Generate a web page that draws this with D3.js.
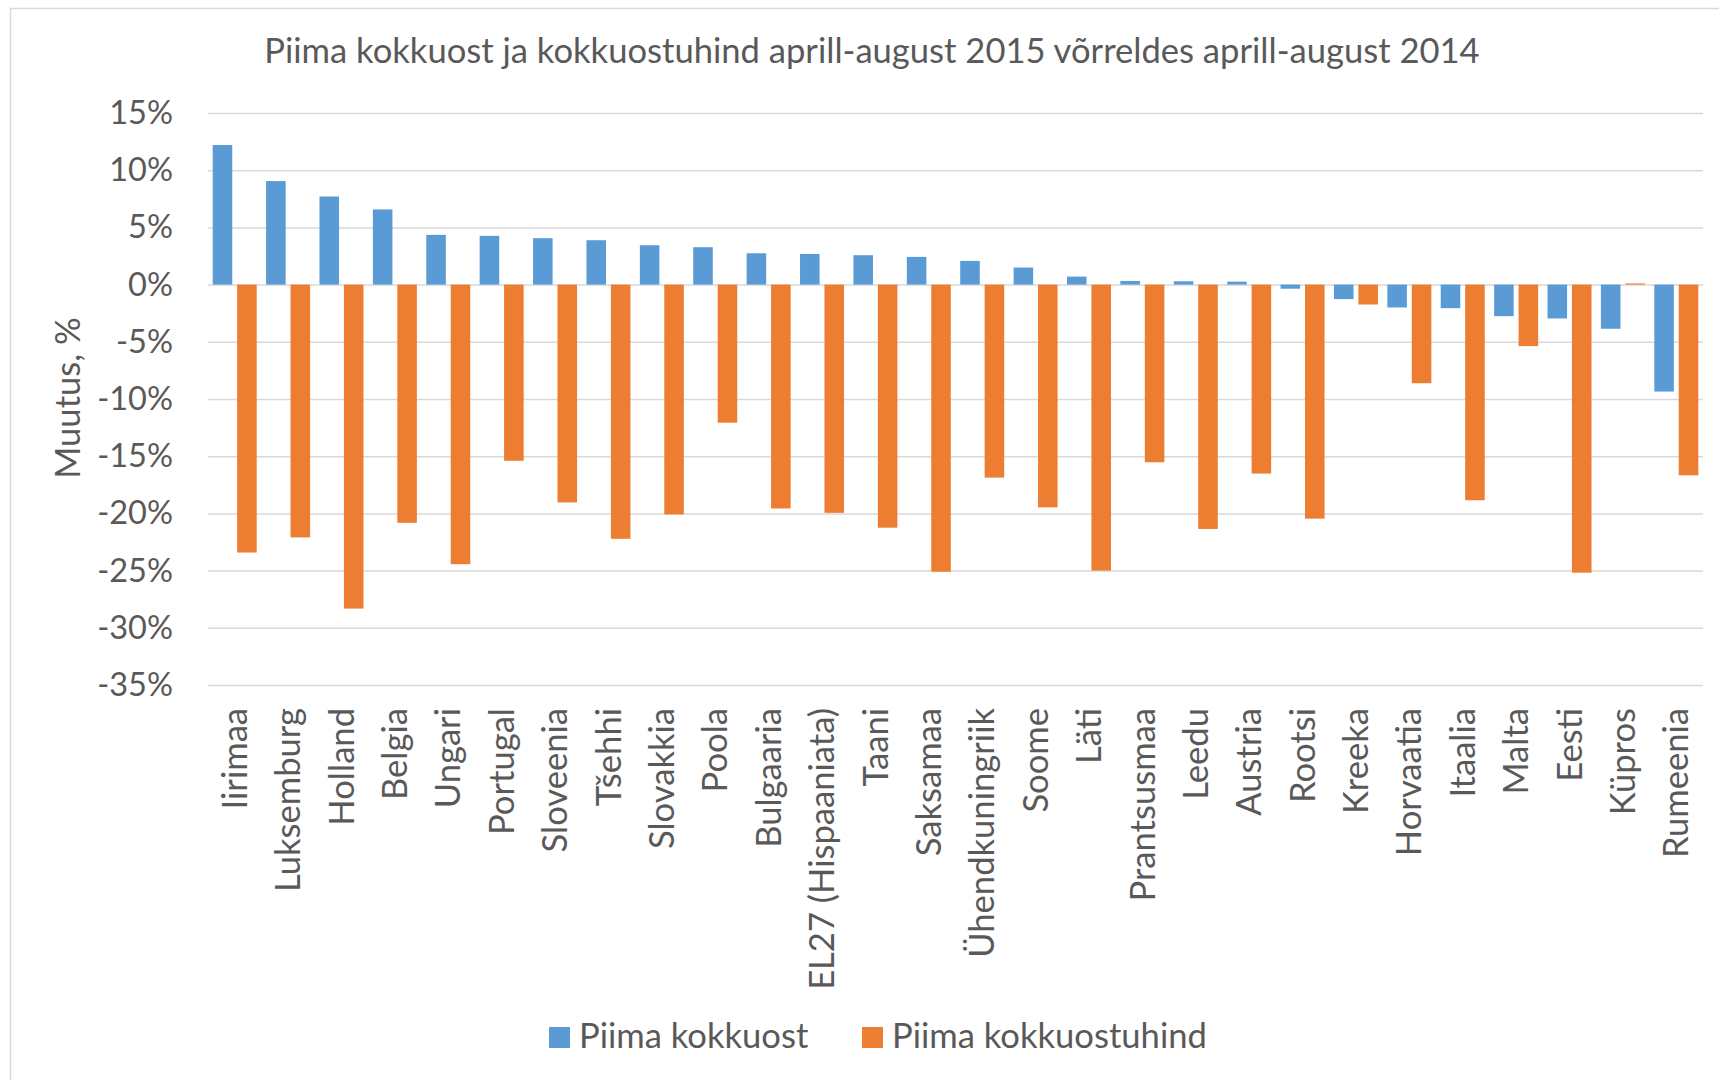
<!DOCTYPE html>
<html>
<head>
<meta charset="utf-8">
<script src="https://cdn.jsdelivr.net/npm/d3@7"></script>
<style>
  body { margin: 0; background: #fff; }
  svg { display: block; font-family: Lato, "Open Sans", sans-serif; }
  .axis text { fill: #595959; }
</style>
</head>
<body>
<svg class="graphic" width="1719" height="1080"></svg>
<script>
// data
const categories = ["Iirimaa", "Luksemburg", "Holland", "Belgia", "Ungari", "Portugal", "Sloveenia",
    "Tšehhi", "Slovakkia", "Poola", "Bulgaaria", "EL27 (Hispaaniata)", "Taani", "Saksamaa",
    "Ühendkuningriik", "Soome", "Läti", "Prantsusmaa", "Leedu", "Austria", "Rootsi", "Kreeka",
    "Horvaatia", "Itaalia", "Malta", "Eesti", "Küpros", "Rumeenia"];

const kokkuost = [12.2, 9.05, 7.7, 6.57, 4.35, 4.26, 4.06, 3.88, 3.44, 3.27, 2.74, 2.68, 2.57, 2.42,
    2.07, 1.49, 0.7, 0.32, 0.29, 0.26, -0.36, -1.27, -2.0, -2.06, -2.76, -2.96, -3.86, -9.35];

const kokkuostuhind = [-23.42, -22.1, -28.32, -20.82, -24.44, -15.4, -19.04, -22.22, -20.09, -12.07,
    -19.57, -19.95, -21.25, -25.1, -16.87, -19.47, -25.0, -15.53, -21.36, -16.52, -20.46, -1.74,
    -8.62, -18.85, -5.38, -25.18, 0.1, -16.67];

const seriesNames = ["Piima kokkuost", "Piima kokkuostuhind"];
const yTicks = [15, 10, 5, 0, -5, -10, -15, -20, -25, -30, -35];

const titleText = "Piima kokkuost ja kokkuostuhind aprill-august 2015 võrreldes aprill-august 2014";
const yTitle = "Muutus, %";

const COLORS = ["#5b9bd5", "#ed7d31"];
const PLOT = { left: 208, right: 1703, top: 113, bottom: 685 };
const FONT = 34.6;      // title, labels, legend
const TICK_FONT = 32.5; // y tick labels

const $svg = d3.select('.graphic');

// chart frame
$svg.append('rect')
    .attr('x', 10.5).attr('y', 8.5)
    .attr('width', 1740).attr('height', 1100)
    .attr('fill', '#fff')
    .attr('stroke', '#d9d9d9')
    .attr('stroke-width', 1.5);

const x = d3.scaleBand()
    .domain(categories)
    .range([PLOT.left, PLOT.right]);

const xSub = d3.scaleBand()
    .domain(seriesNames)
    .range([4.7, x.bandwidth() - 4.7])
    .paddingInner(0.2);

const y = d3.scaleLinear()
    .domain([-35, 15])
    .range([PLOT.bottom, PLOT.top]);

// gridlines + y labels
$svg.append('g')
    .attr('class', 'y axis')
    .attr('transform', `translate(${PLOT.left},0)`)
    .call(d3.axisLeft(y).tickValues(yTicks)
        .tickSize(-(PLOT.right - PLOT.left))
        .tickPadding(35)
        .tickFormat(d => d + "%"))
    .call(g => g.select(".domain").remove())
    .call(g => g.selectAll(".tick line")
        .attr("stroke", "#d9d9d9")
        .attr("stroke-width", 1.5))
    .call(g => g.selectAll(".tick text")
        .attr("font-size", TICK_FONT)
        .attr("font-family", "Lato"));

// bars
const rows = categories.map((c, i) => ({ cat: c, values: [kokkuost[i], kokkuostuhind[i]] }));

const groups = $svg.append('g')
    .selectAll('g')
    .data(rows)
    .join('g')
    .attr('transform', d => `translate(${x(d.cat)},0)`);

groups.selectAll('rect')
    .data(d => d.values.map((v, k) => ({ key: seriesNames[k], v: v, k: k })))
    .join('rect')
    .attr('x', d => xSub(d.key))
    .attr('width', xSub.bandwidth())
    .attr('y', d => y(Math.max(0, d.v)))
    .attr('height', d => Math.abs(y(d.v) - y(0)))
    .attr('fill', d => COLORS[d.k]);

// category labels
$svg.append('g')
    .attr('class', 'x axis')
    .selectAll('text')
    .data(categories)
    .join('text')
    .attr('transform', d => `translate(${x(d) + x.bandwidth() / 2},708) rotate(-90)`)
    .attr('text-anchor', 'end')
    .attr('dy', '0.35em')
    .attr('font-size', FONT)
    .attr('fill', '#595959')
    .text(d => d);

// title
$svg.append('text')
    .attr('x', 872)
    .attr('y', 63)
    .attr('text-anchor', 'middle')
    .attr('font-size', FONT)
    .attr('fill', '#595959')
    .text(titleText);

// y axis title
$svg.append('text')
    .attr('transform', 'translate(80,398) rotate(-90)')
    .attr('text-anchor', 'middle')
    .attr('font-size', FONT)
    .attr('fill', '#595959')
    .text(yTitle);

// legend
const legendX = [549, 862];
const legend = $svg.append('g')
    .selectAll('g')
    .data(seriesNames)
    .join('g')
    .attr('transform', (d, i) => `translate(${legendX[i]},1027)`);

legend.append('rect')
    .attr('width', 21).attr('height', 21)
    .attr('fill', (d, i) => COLORS[i]);

legend.append('text')
    .attr('x', 30)
    .attr('y', 21)
    .attr('font-size', FONT)
    .attr('fill', '#595959')
    .text(d => d);
</script>
</body>
</html>
